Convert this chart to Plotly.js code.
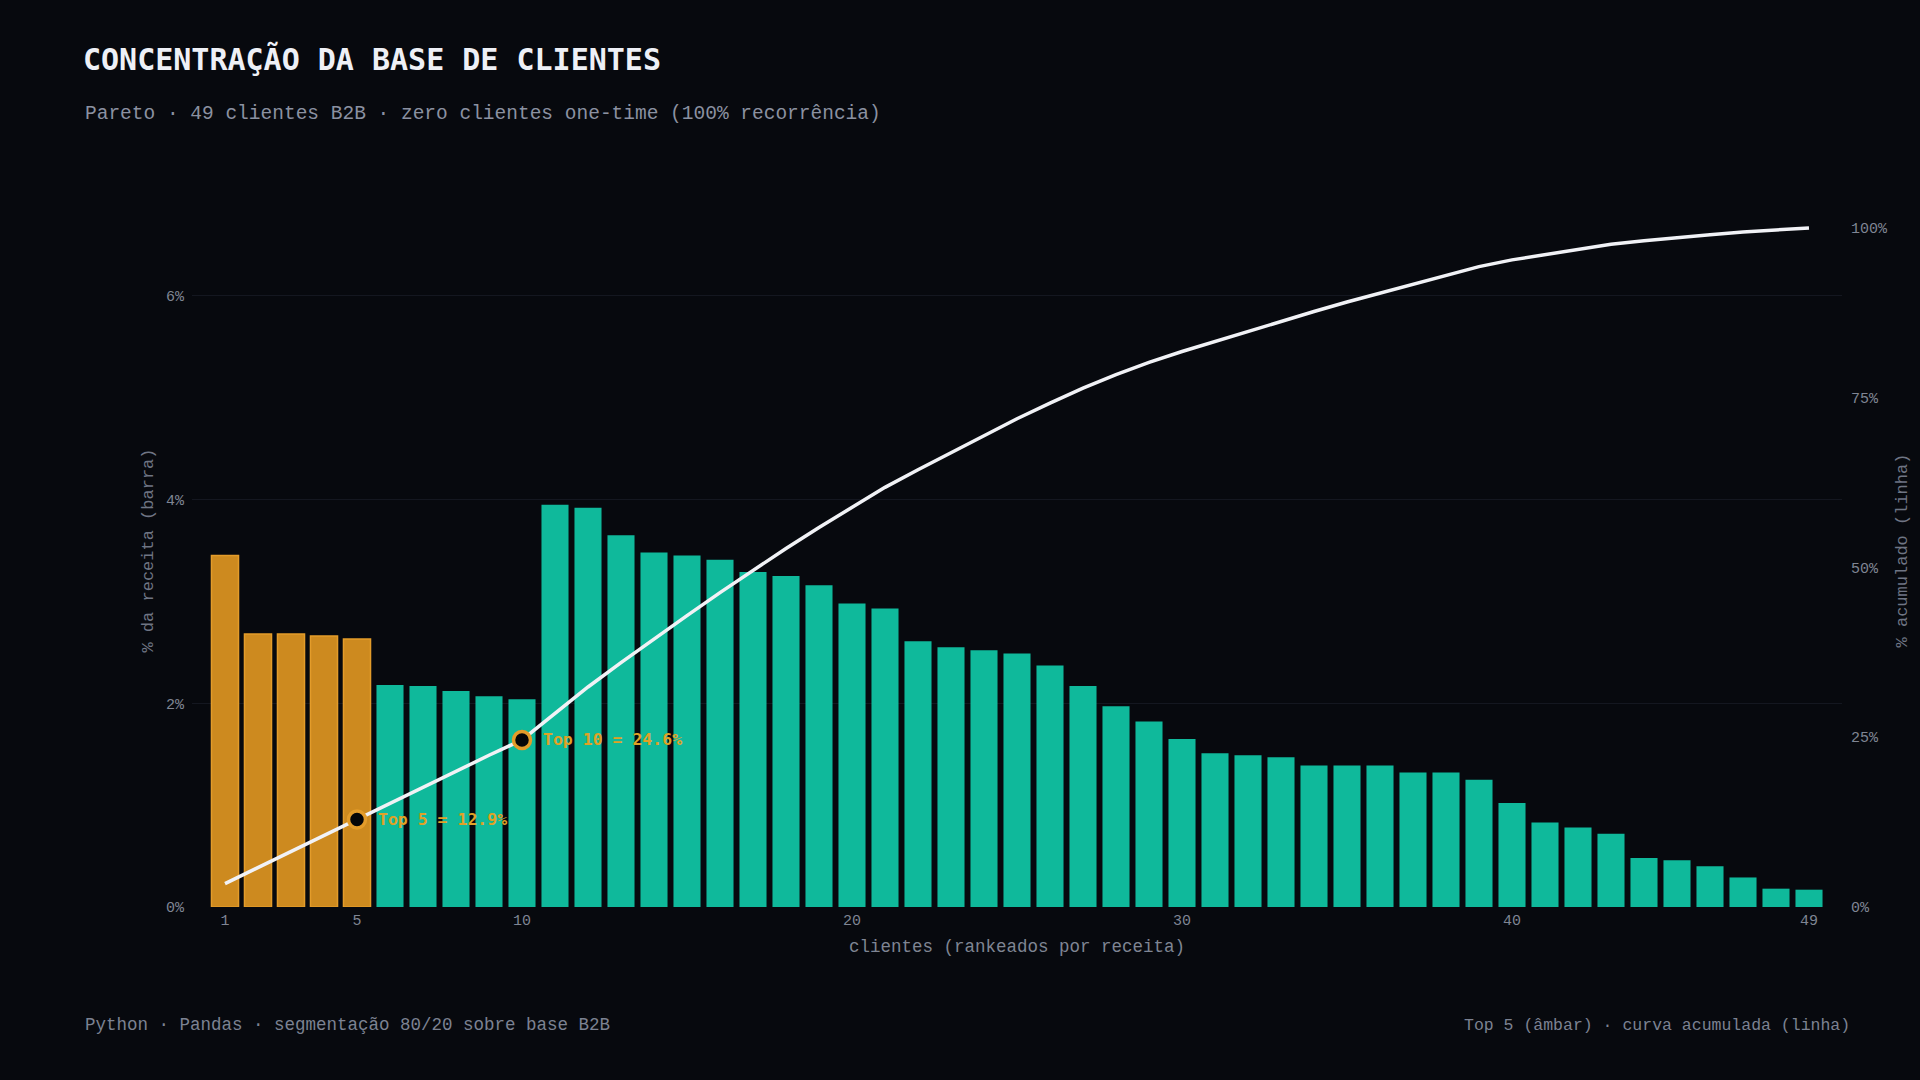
<!DOCTYPE html>
<html>
<head>
<meta charset="utf-8">
<script src="https://cdn.plot.ly/plotly-3.0.1.min.js"></script>
<style>
  html, body { margin: 0; padding: 0; background: #07090e; }
  #chart { width: 1920px; height: 1080px; }
</style>
</head>
<body>
<div id="chart"></div>
<script>
// ---- data ----
const clients = [1,2,3,4,5,6,7,8,9,10,11,12,13,14,15,16,17,18,19,20,21,22,23,24,25,26,27,28,29,30,31,32,33,34,35,36,37,38,39,40,41,42,43,44,45,46,47,48,49];
const revenueShare = [3.45,2.68,2.68,2.66,2.63,2.18,2.17,2.12,2.07,2.04,
  3.95,3.92,3.65,3.48,3.45,3.41,3.29,3.25,3.16,2.98,
  2.93,2.61,2.55,2.52,2.49,2.37,2.17,1.97,1.82,1.65,
  1.51,1.49,1.47,1.39,1.39,1.39,1.32,1.32,1.25,1.02,
  0.83,0.78,0.72,0.48,0.46,0.40,0.29,0.18,0.17];
const cumulativeShare = [3.44,5.82,8.20,10.56,12.9,15.31,17.71,20.05,22.34,24.6,
  28.5,32.4,36.0,39.5,42.9,46.3,49.6,52.8,55.9,58.9,
  61.8,64.4,66.9,69.4,71.9,74.2,76.4,78.4,80.2,81.8,
  83.3,84.8,86.3,87.7,89.1,90.4,91.7,93.0,94.3,95.3,
  96.1,96.9,97.6,98.1,98.6,99.0,99.4,99.7,100.0];
const highlightRanks = [5, 10];
const highlightLabels = ["Top 5 = 12.9%", "Top 10 = 24.6%"];
const xTickVals = [1,5,10,20,30,40,49];
const xTickText = ["1","5","10","20","30","40","49"];
const leftTickVals = [0,2,4,6];
const leftTickText = ["0%","2%","4%","6%"];
const rightTickVals = [0,25,50,75,100];
const rightTickText = ["0%","25%","50%","75%","100%"];

// ---- style ----
const BG = "#07090e";
const AMBER = "#cd8a1f";
const AMBER_LINE = "#e39c2a";
const AMBER_TEXT = "#e0a226";
const TEAL = "#0fb99b";
const MONO = "'Liberation Mono', 'DejaVu Sans Mono', monospace";
const MONO2 = "'DejaVu Sans Mono', 'Liberation Mono', monospace";

const W = 1920, H = 1080;
const PL = 192, PR = 1842, PT = 194, PB = 907;
const px2x = x => (x - PL) / (PR - PL);
const px2y = y => (PB - y) / (PB - PT);

const topN = 5;
const barColors = clients.map(c => c <= topN ? AMBER : TEAL);
const barLineColors = clients.map(c => c <= topN ? AMBER_LINE : TEAL);
const barLineWidths = clients.map(c => c <= topN ? 1.5 : 0);

const hlY = highlightRanks.map(r => cumulativeShare[clients.indexOf(r)]);

const traces = [
  {
    type: "bar",
    x: clients,
    y: revenueShare,
    marker: { color: barColors, line: { color: barLineColors, width: barLineWidths } },
    hoverinfo: "skip",
    yaxis: "y"
  },
  {
    type: "scatter",
    mode: "lines",
    x: clients,
    y: cumulativeShare,
    line: { color: "#f1f2f6", width: 3.5 },
    yaxis: "y2",
    hoverinfo: "skip"
  },
  {
    type: "scatter",
    mode: "markers",
    x: highlightRanks,
    y: hlY,
    marker: { size: 17, color: "#050608", line: { color: AMBER_LINE, width: 3.5 } },
    yaxis: "y2",
    hoverinfo: "skip"
  }
];

const annotations = [
  { xref: "paper", yref: "paper", x: px2x(83), y: px2y(114), xanchor: "left", yanchor: "middle",
    text: "Pareto · 49 clientes B2B · zero clientes one-time (100% recorrência)", showarrow: false,
    font: { family: MONO, size: 19.5, color: "#8b91a1" } },
  { xref: "paper", yref: "paper", x: px2x(83), y: px2y(1025), xanchor: "left", yanchor: "middle",
    text: "Python · Pandas · segmentação 80/20 sobre base B2B", showarrow: false,
    font: { family: MONO, size: 17.5, color: "#7c8292" } },
  { xref: "paper", yref: "paper", x: px2x(1852), y: px2y(1025), xanchor: "right", yanchor: "middle",
    text: "Top 5 (âmbar) · curva acumulada (linha)", showarrow: false,
    font: { family: MONO, size: 16.5, color: "#7c8292" } }
];
highlightRanks.forEach((r, i) => {
  annotations.push({
    xref: "x", yref: "y2", x: r, y: hlY[i], xanchor: "left", yanchor: "middle",
    xshift: 19, text: "<b>" + highlightLabels[i] + "</b>", showarrow: false,
    font: { family: MONO2, size: 16.5, color: AMBER_TEXT }
  });
});

const layout = {
  width: W, height: H,
  paper_bgcolor: BG, plot_bgcolor: BG,
  margin: { l: PL, r: W - PR, t: PT, b: H - PB, pad: 0 },
  showlegend: false,
  bargap: 0.18,
  title: {
    text: "<b>CONCENTRAÇÃO DA BASE DE CLIENTES</b>",
    xref: "container", yref: "container",
    x: 83 / W, xanchor: "left",
    y: 1 - 59 / H, yanchor: "middle",
    font: { family: MONO2, size: 30, color: "#eef0f6" }
  },
  xaxis: {
    range: [0, 50],
    tickvals: xTickVals, ticktext: xTickText,
    showgrid: false, zeroline: false, showline: false,
    ticks: "", ticklen: 0, ticklabelstandoff: 2,
    tickfont: { family: MONO, size: 15, color: "#7f8593" },
    title: { text: "clientes (rankeados por receita)", standoff: 10,
             font: { family: MONO, size: 17.5, color: "#7f8593" } }
  },
  yaxis: {
    range: [0, 7],
    tickvals: leftTickVals, ticktext: leftTickText,
    showgrid: true, gridcolor: "#141720", gridwidth: 1,
    zeroline: false, showline: false, ticks: "", ticklabelstandoff: 7,
    tickfont: { family: MONO, size: 15, color: "#7f8593" },
    title: { text: "% da receita (barra)", standoff: 8,
             font: { family: MONO, size: 17, color: "#6f7584" } }
  },
  yaxis2: {
    range: [0, 105],
    overlaying: "y", side: "right",
    tickvals: rightTickVals, ticktext: rightTickText,
    showgrid: false, zeroline: false, showline: false, ticks: "", ticklabelstandoff: 8,
    tickfont: { family: MONO, size: 15, color: "#7f8593" },
    title: { text: "% acumulado (linha)", standoff: 8,
             font: { family: MONO, size: 17, color: "#6f7584" } }
  },
  annotations: annotations
};

Plotly.newPlot("chart", traces, layout, { displayModeBar: false, staticPlot: true });
</script>
</body>
</html>
